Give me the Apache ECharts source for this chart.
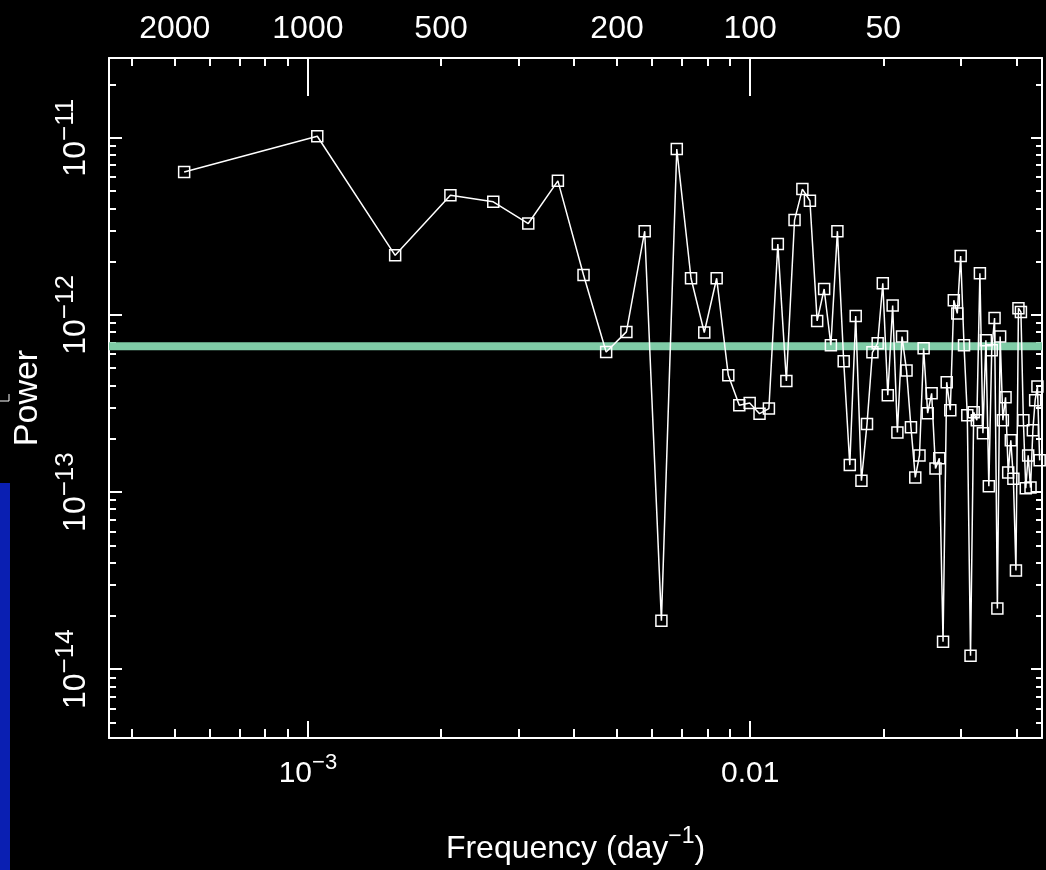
<!DOCTYPE html>
<html>
<head>
<meta charset="utf-8">
<script src="https://cdn.jsdelivr.net/npm/echarts@6/dist/echarts.min.js"></script>
<style>
  html, body { margin: 0; background: #000; }
  #chart { width: 1046px; height: 870px; }
</style>
</head>
<body>
<div id="chart"></div>
<script>
// frequency (day^-1) of each periodogram point
const freq = [
  0.000525, 0.00105, 0.001575, 0.0021, 0.002625, 0.00315, 0.003675, 0.0042, 0.004725, 0.00525,
  0.005775, 0.0063, 0.006825, 0.00735, 0.007875, 0.0084, 0.008925, 0.00945, 0.009975, 0.0105,
  0.011025, 0.01155, 0.012075, 0.0126, 0.013125, 0.01365, 0.014175, 0.0147, 0.015225, 0.01575,
  0.016275, 0.0168, 0.017325, 0.01785, 0.018375, 0.0189, 0.019425, 0.01995, 0.020475, 0.021,
  0.021525, 0.02205, 0.022575, 0.0231, 0.023625, 0.02415, 0.024675, 0.0252, 0.025725, 0.02625,
  0.026775, 0.0273, 0.027825, 0.02835, 0.028875, 0.0294, 0.029925, 0.03045, 0.030975, 0.0315,
  0.032025, 0.03255, 0.033075, 0.0336, 0.034125, 0.03465, 0.035175, 0.0357, 0.036225, 0.03675,
  0.037275, 0.0378, 0.038325, 0.03885, 0.039375, 0.0399, 0.040425, 0.04095, 0.041475, 0.042,
  0.042525, 0.04305, 0.043575, 0.0441, 0.044625, 0.04515
];
// power at each frequency
const power = [
  6.40e-12, 1.02e-11, 2.17e-12, 4.74e-12, 4.35e-12, 3.28e-12, 5.71e-12, 1.68e-12, 6.18e-13, 8.02e-13,
  2.97e-12, 1.88e-14, 8.63e-12, 1.61e-12, 7.96e-13, 1.61e-12, 4.56e-13, 3.09e-13, 3.18e-13, 2.77e-13,
  2.96e-13, 2.51e-12, 4.24e-13, 3.43e-12, 5.13e-12, 4.41e-12, 9.25e-13, 1.40e-12, 6.74e-13, 2.97e-12,
  5.47e-13, 1.42e-13, 9.85e-13, 1.16e-13, 2.42e-13, 6.15e-13, 6.92e-13, 1.51e-12, 3.52e-13, 1.13e-12,
  2.17e-13, 7.55e-13, 4.85e-13, 2.32e-13, 1.21e-13, 1.61e-13, 6.49e-13, 2.79e-13, 3.61e-13, 1.36e-13,
  1.55e-13, 1.43e-14, 4.17e-13, 2.90e-13, 1.21e-12, 1.02e-12, 2.15e-12, 6.74e-13, 2.71e-13, 1.19e-14,
  2.82e-13, 2.54e-13, 1.72e-12, 2.15e-13, 7.19e-13, 1.08e-13, 6.32e-13, 9.60e-13, 2.20e-14, 7.55e-13,
  2.54e-13, 3.43e-13, 1.29e-13, 1.96e-13, 1.19e-13, 3.61e-14, 1.09e-12, 1.04e-12, 2.54e-13, 1.05e-13,
  1.61e-13, 1.06e-13, 2.23e-13, 3.30e-13, 3.95e-13, 1.51e-13
];
const threshold = 6.65e-13;

// tick labels
const freqMajor = [1e-3, 1e-2];
const periodLabels = [2000, 1000, 500, 200, 100, 50];
const powerMajor = [1e-14, 1e-13, 1e-12, 1e-11];

// axis ranges (drawn in log10 space)
const xMin = Math.log10(3.55e-4), xMax = Math.log10(0.0457);
const yMin = Math.log10(4.09e-15), yMax = Math.log10(2.82e-11);

const font = 'Liberation Sans';
const white = '#fff';

// minor ticks at 2..9 of every decade
function minorTicks(d0, d1) {
  const out = [];
  for (let d = d0; d <= d1; d++) {
    for (let k = 2; k <= 9; k++) out.push(d + Math.log10(k));
  }
  return out;
}
const xMinor = minorTicks(-4, -2);
const yMinor = minorTicks(-15, -11);
const xMajorLog = freqMajor.map(Math.log10);
const yMajorLog = powerMajor.map(Math.log10);
const periodLog = periodLabels.map(p => Math.log10(1 / p));

function expLabel(v) {
  return '{b|10}{s|\u2212' + Math.abs(Math.round(v)) + '}';
}

function baseAxis(pos, min, max) {
  return {
    type: 'value', position: pos, min: min, max: max,
    splitLine: { show: false },
    axisLine: { show: true, onZero: false, lineStyle: { color: white, width: 2 } },
    axisTick: { show: false },
    axisLabel: { show: false }
  };
}
function tickAxis(pos, min, max, values, len, lineShow) {
  const a = baseAxis(pos, min, max);
  a.axisLine.show = lineShow;
  a.axisTick = { show: true, inside: true, length: len, customValues: values,
    lineStyle: { color: white, width: 2 } };
  return a;
}

// bottom: frequency
const xBottom = tickAxis('bottom', xMin, xMax, xMajorLog, 17, true);
xBottom.axisLabel = {
  show: true, customValues: xMajorLog, margin: 14,
  formatter: v => Math.round(v) === -3 ? expLabel(v) : '{b|0.01}',
  rich: {
    b: { fontFamily: font, fontSize: 30, lineHeight: 44, color: white },
    s: { fontFamily: font, fontSize: 22, lineHeight: 22, verticalAlign: 'top', color: white }
  }
};
xBottom.name = '{a|Frequency (day}{s|\u22121}{a|)}';
xBottom.nameLocation = 'middle';
xBottom.nameGap = 87;
xBottom.nameTextStyle = {
  rich: {
    a: { fontFamily: font, fontSize: 32, lineHeight: 48, color: white },
    s: { fontFamily: font, fontSize: 23, lineHeight: 24, verticalAlign: 'top', color: white }
  }
};
const xBottomMinor = tickAxis('bottom', xMin, xMax, xMinor, 9, false);

// top: period in days
const xTop = tickAxis('top', xMin, xMax, xMajorLog, 38, true);
xTop.axisLabel = {
  show: true, customValues: periodLog, margin: 13,
  fontFamily: font, fontSize: 32, color: white,
  formatter: v => String(Math.round(1 / Math.pow(10, v)))
};
const xTopMinor = tickAxis('top', xMin, xMax, xMinor, 8, false);

// left: power
const yLeft = tickAxis('left', yMin, yMax, yMajorLog, 13, true);
yLeft.axisLabel = {
  show: true, customValues: yMajorLog, margin: 10, rotate: 90,
  formatter: v => expLabel(v),
  rich: {
    b: { fontFamily: font, fontSize: 32, lineHeight: 46, color: white },
    s: { fontFamily: font, fontSize: 26, lineHeight: 24, verticalAlign: 'top', color: white }
  }
};
yLeft.name = 'Power';
yLeft.nameLocation = 'middle';
yLeft.nameGap = 56;
yLeft.nameTextStyle = { fontFamily: font, fontSize: 34, color: white };
const yLeftMinor = tickAxis('left', yMin, yMax, yMinor, 7, false);
const yRight = tickAxis('right', yMin, yMax, yMajorLog, 11, true);
const yRightMinor = tickAxis('right', yMin, yMax, yMinor, 6, false);

const chart = echarts.init(document.getElementById('chart'));
chart.setOption({
  backgroundColor: '#000',
  animation: false,
  grid: { left: 109, right: 4, top: 58, bottom: 132, outerBoundsMode: 'none' },
  xAxis: [xBottom, xBottomMinor, xTop, xTopMinor],
  yAxis: [yLeft, yLeftMinor, yRight, yRightMinor],
  graphic: [
    { type: 'rect', shape: { x: 0, y: 483, width: 10, height: 387 }, style: { fill: '#0a1fb2' } },
    { type: 'polyline', shape: { points: [[9, 394], [9, 401], [0, 401]] },
      style: { stroke: white, lineWidth: 1, fill: null } }
  ],
  series: [
    {
      type: 'line', silent: true, z: 1, symbol: 'none',
      data: [[xMin, Math.log10(threshold)], [xMax, Math.log10(threshold)]],
      lineStyle: { color: '#7fcba6', width: 8 }
    },
    {
      type: 'line', z: 3, symbol: 'rect', symbolSize: 11,
      data: freq.map((f, i) => [Math.log10(f), Math.log10(power[i])]),
      lineStyle: { color: white, width: 1.5 },
      itemStyle: { color: 'rgba(0,0,0,0)', borderColor: white, borderWidth: 1.5 }
    }
  ]
});
</script>
</body>
</html>
